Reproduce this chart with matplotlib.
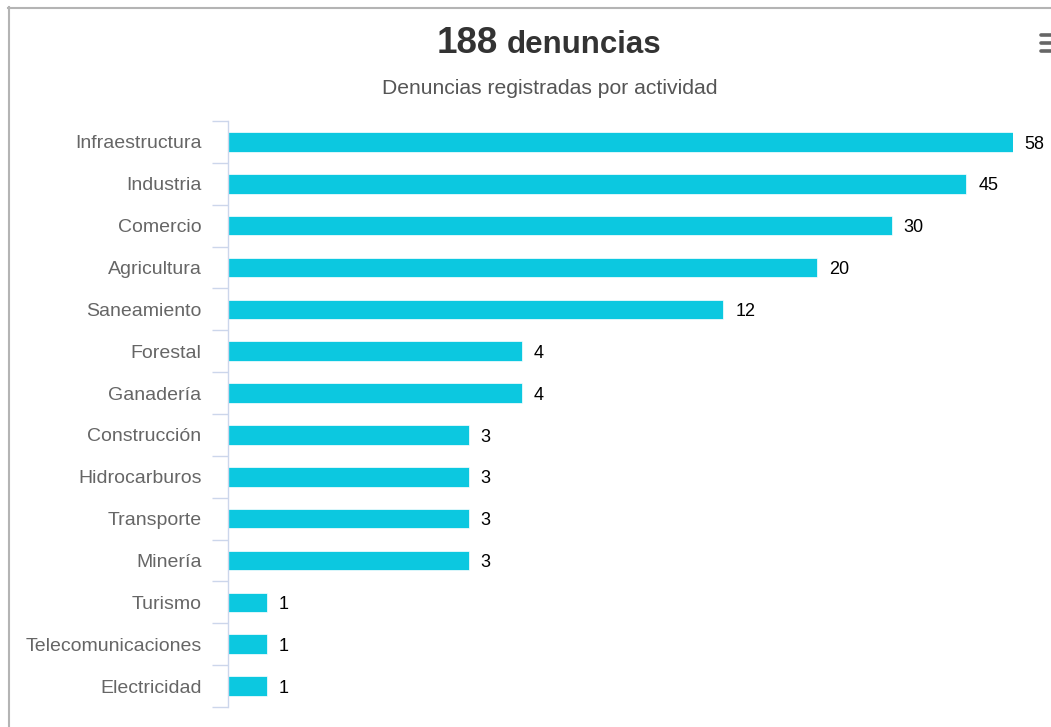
import matplotlib
matplotlib.use("Agg")
import matplotlib.pyplot as plt
from matplotlib.lines import Line2D
import numpy as np

plt.rcParams['font.family'] = ['Liberation Sans', 'DejaVu Sans']

categories = ["Infraestructura", "Industria", "Comercio", "Agricultura", "Saneamiento",
              "Forestal", "Ganadería", "Construcción", "Hidrocarburos", "Transporte",
              "Minería", "Turismo", "Telecomunicaciones", "Electricidad"]
values = [58, 45, 30, 20, 12, 4, 4, 3, 3, 3, 3, 1, 1, 1]
total = 188

W, H = 1051, 727
fig = plt.figure(figsize=(W / 100, H / 100), dpi=100)

def fx(px): return px / W
def fy(py): return 1 - py / H

ax = fig.add_axes([fx(228), fy(707), fx(1013) - fx(228), fy(121) - fy(707)])
y = np.arange(len(categories))
ax.barh(y, values, height=0.47, color="#0cc8e0", edgecolor="white", linewidth=0.5, zorder=2)
ax.set_xscale("log")
ax.set_xlim(0.81, 58)
ax.set_ylim(len(categories) - 0.5, -0.5)

for yi, v in zip(y, values):
    ax.annotate(str(v), (v, yi), xytext=(8.5, -1.5), textcoords="offset points",
                va="center", ha="left", fontsize=13, color="#000000", clip_on=False)

for s in ["top", "right", "bottom"]:
    ax.spines[s].set_visible(False)
ax.spines["left"].set_color("#ccd6eb")
ax.spines["left"].set_linewidth(1)
ax.set_xticks([])
ax.set_xticks([], minor=True)
ax.set_yticks(y)
ax.set_yticklabels(categories, fontsize=14, color="#666666")
ax.tick_params(axis="y", which="major", length=0, pad=19)
ax.set_yticks(np.arange(-0.5, len(categories)), minor=True)
ax.tick_params(axis="y", which="minor", length=11.5, width=1, color="#ccd6eb", direction="out")

# title and subtitle
fig.text(fx(498), fy(53), "188", fontsize=26.5, fontweight="bold", color="#333333", ha="right", va="baseline")
fig.text(fx(507), fy(53), "denuncias", fontsize=22.5, fontweight="bold", color="#333333", ha="left", va="baseline")
fig.text(fx(550), fy(88), "Denuncias registradas por actividad", fontsize=15.2, color="#555555",
         ha="center", va="center")

# frame
fig.add_artist(Line2D([fx(8), 1], [fy(7.5), fy(7.5)], color="#b4b4b4", lw=1.5))
fig.add_artist(Line2D([fx(8.5), fx(8.5)], [fy(7), 0], color="#b4b4b4", lw=1.5))

# menu icon
for py in [35, 43, 51]:
    fig.add_artist(Line2D([fx(1041), 1], [fy(py), fy(py)], color="#666666", lw=2.6, solid_capstyle="round"))

fig.savefig("out.png", dpi=100)
